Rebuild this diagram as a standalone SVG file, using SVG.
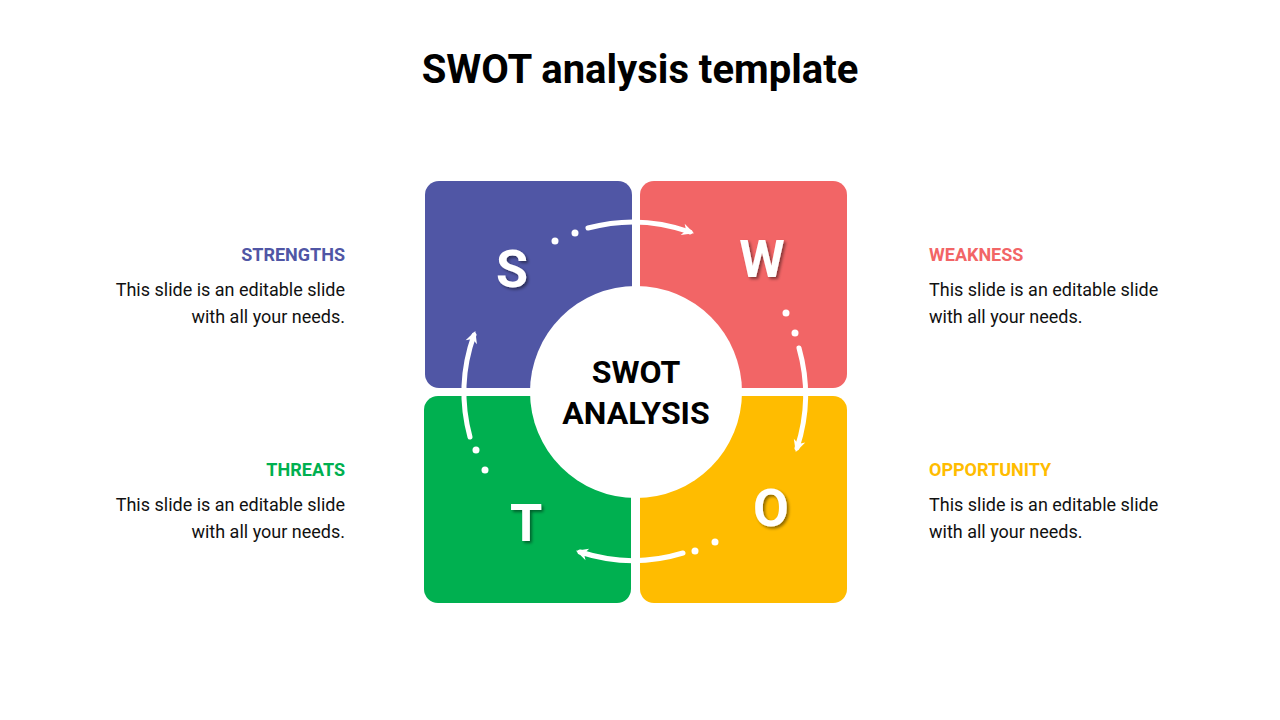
<svg xmlns="http://www.w3.org/2000/svg" width="1280" height="720" viewBox="0 0 1280 720">
<defs>
<style>
.t{font-family:Roboto,"Liberation Sans",sans-serif}
.lab{font-size:18px;font-weight:bold}
.body{font-size:18px;fill:#111}
.big{font-size:52px;font-weight:bold;fill:#fff}
.arc{fill:none;stroke:#fff;stroke-width:5;stroke-linecap:round}
</style>
<marker id="ah" viewBox="0 0 10 10" refX="6" refY="5" markerWidth="5" markerHeight="5" orient="auto" markerUnits="userSpaceOnUse" overflow="visible">
<path d="M0,0 L10,5 L0,10 L3,5 Z" fill="#fff" transform="scale(2.4) translate(-4,-3)"/>
</marker>
<filter id="sh"><feDropShadow dx="2" dy="2" stdDeviation="1.5" flood-color="#000" flood-opacity="0.45"/></filter>
</defs>
<rect width="1280" height="720" fill="#fff"/>
<text class="t" x="640" y="83" text-anchor="middle" font-size="40" font-weight="bold">SWOT analysis template</text>
<g id="S"><rect x="425" y="181" width="207" height="207" rx="14" fill="#5056a5"/></g>
<g id="W"><rect x="640" y="181" width="207" height="207" rx="14" fill="#f26566"/></g>
<g id="T"><rect x="424" y="396" width="207" height="207" rx="14" fill="#00b050"/></g>
<g id="O"><rect x="640" y="396" width="207" height="207" rx="14" fill="#ffbc00"/></g>
<g id="center">
<circle cx="636" cy="392" r="106" fill="#fff"/>
<text class="t" x="636" y="383" text-anchor="middle" font-size="32" font-weight="bold">SWOT</text>
<text class="t" x="636" y="424" text-anchor="middle" font-size="32" font-weight="bold">ANALYSIS</text>
</g>
<g filter="url(#sh)">
<text class="t big" x="512" y="287" text-anchor="middle">S</text>
<text class="t big" x="762" y="277" text-anchor="middle">W</text>
<text class="t big" x="526" y="541" text-anchor="middle">T</text>
<text class="t big" x="771" y="526" text-anchor="middle">O</text>
</g>
<g id="connectors">
<path class="arc" d="M588,228 A171,171 0 0 1 690,232" marker-end="url(#ah)"/>
<path class="arc" d="M799,348 A171,171 0 0 1 797,448" marker-end="url(#ah)"/>
<path class="arc" d="M683,553 A171,171 0 0 1 580,552" marker-end="url(#ah)"/>
<path class="arc" d="M470,437 A171,171 0 0 1 474,335" marker-end="url(#ah)"/>
<g fill="#fff">
<circle cx="575" cy="233" r="3.5"/><circle cx="555" cy="241" r="3.5"/>
<circle cx="786" cy="313" r="3.5"/><circle cx="795" cy="333" r="3.5"/>
<circle cx="715" cy="542" r="3.5"/><circle cx="695" cy="551" r="3.5"/>
<circle cx="476" cy="450" r="3.5"/><circle cx="485" cy="470" r="3.5"/>
</g>
</g>
<g id="labels">
<text class="t lab" x="345" y="261" text-anchor="end" fill="#5056a5">STRENGTHS</text>
<text class="t body" x="345" y="296" text-anchor="end">This slide is an editable slide</text>
<text class="t body" x="345" y="323" text-anchor="end">with all your needs.</text>
<text class="t lab" x="929" y="261" fill="#f26566">WEAKNESS</text>
<text class="t body" x="929" y="296">This slide is an editable slide</text>
<text class="t body" x="929" y="323">with all your needs.</text>
<text class="t lab" x="345" y="476" text-anchor="end" fill="#00b050">THREATS</text>
<text class="t body" x="345" y="511" text-anchor="end">This slide is an editable slide</text>
<text class="t body" x="345" y="538" text-anchor="end">with all your needs.</text>
<text class="t lab" x="929" y="476" fill="#ffbc00">OPPORTUNITY</text>
<text class="t body" x="929" y="511">This slide is an editable slide</text>
<text class="t body" x="929" y="538">with all your needs.</text>
</g>
</svg>
